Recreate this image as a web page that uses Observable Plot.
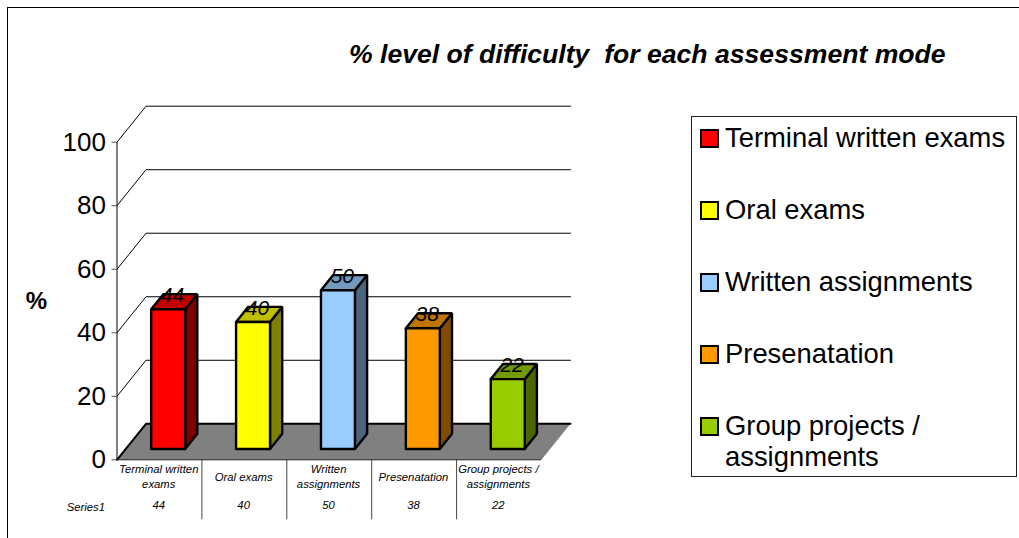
<!DOCTYPE html>
<html>
<head>
<meta charset="utf-8">
<script src="https://cdn.jsdelivr.net/npm/d3@7"></script>
<script src="https://cdn.jsdelivr.net/npm/@observablehq/plot@0.6"></script>
<style>
html,body{margin:0;padding:0;background:#fff;overflow:hidden;width:1019px;height:538px;font-family:"Liberation Sans",Arial,sans-serif}
#wrap{position:relative;width:1019px;height:538px;overflow:hidden}
#frame{position:absolute;left:7px;top:7px;width:1100px;height:600px;border-left:1px solid #000;border-top:1px solid #000}
#chart{position:absolute;left:0;top:0}
#title{position:absolute;left:349px;top:39px;font-weight:bold;font-style:italic;font-size:26.6px;line-height:30px;white-space:pre;color:#000}
#legend{position:absolute;left:691px;top:116px;width:324px;height:359px;border:1px solid #222;background:#fff}
.item{position:absolute;left:8px}
.sw{position:absolute;left:0;top:0;width:15px;height:15px;border:2px solid #000}
.lb{position:absolute;left:25px;top:-7px;font-size:27.4px;line-height:31px;white-space:pre;color:#000}
</style>
</head>
<body>
<div id="wrap">
<div id="frame"></div>
<div id="chart"></div>
<div id="title"></div>
<div id="legend"></div>
</div>
<script>
const chartTitle = "% level of difficulty  for each assessment mode";
const categories = ["Terminal written exams", "Oral exams", "Written assignments", "Presenatation", "Group projects / assignments"];
const axisCategories = ["Terminal written\nexams", "Oral exams", "Written\nassignments", "Presenatation", "Group projects /\nassignments"];
const values = [44, 40, 50, 38, 22];
const frontColors = ["#FF0000", "#FFFF00", "#99CCFF", "#FF9900", "#99CC00"];
const topColors = ["#C00000", "#C0C000", "#7399BF", "#BF7300", "#739900"];
const sideColors = ["#800000", "#808000", "#4D6680", "#804D00", "#4D6600"];
const yTicks = [0, 20, 40, 60, 80, 100];
const seriesName = "Series1";

// Oblique projection: depth d (0..1) shifts a point along both data axes.
const depthX = 0.3416, depthY = 11.34;
const xMax = categories.length;
const yMax = 100;
const project = (c, v, d) => ({x: c + d * depthX, y: v + d * depthY});
const poly = (id, fill, pts) => [...pts, pts[0]].map(p => ({id, fill, ...p}));

const barHalf = 0.2, dFront = 0.3, dBack = 0.72;
const faces = [];
values.forEach((v, i) => {
  const a = i + 0.5 - barHalf, b = i + 0.5 + barHalf;
  faces.push(...poly(`s${i}`, sideColors[i], [project(b, 0, dFront), project(b, 0, dBack), project(b, v, dBack), project(b, v, dFront)]));
  faces.push(...poly(`t${i}`, topColors[i], [project(a, v, dFront), project(b, v, dFront), project(b, v, dBack), project(a, v, dBack)]));
  faces.push(...poly(`f${i}`, frontColors[i], [project(a, 0, dFront), project(b, 0, dFront), project(b, v, dFront), project(a, v, dFront)]));
});
const floor = poly("floor", "#808080", [project(0, 0, 0), project(xMax, 0, 0), project(xMax, 0, 1), project(0, 0, 1)]);
const floorBack = [project(0, 0, 0), project(0, 0, 1), project(xMax, 0, 1)];
const gridLines = yTicks.slice(1).flatMap(t => [project(0, t, 0), project(0, t, 1), project(xMax, t, 1)].map(p => ({t, ...p})));
const dividers = d3.range(1, xMax);
const tableBottom = -18.9;

const rows = categories.map((c, i) => ({c: axisCategories[i], v: values[i], i}));

const plot = Plot.plot({
  width: 1019,
  height: 538,
  marginLeft: 116.5,
  marginRight: 449,
  marginTop: 105.7,
  marginBottom: 78.7,
  style: {fontFamily: '"Liberation Sans", Arial, sans-serif', background: "transparent", color: "#000"},
  x: {domain: [0, xMax + depthX], axis: null},
  y: {domain: [0, yMax + depthY], axis: null},
  color: {type: "identity"},
  marks: [
    Plot.line(gridLines, {x: "x", y: "y", z: "t", stroke: "#000", strokeWidth: 1, strokeLinejoin: "miter"}),
    Plot.line(floor, {x: "x", y: "y", z: "id", fill: "fill", stroke: "none"}),
    Plot.line(floorBack, {x: "x", y: "y", stroke: "#000", strokeWidth: 2, strokeLinejoin: "miter"}),
    Plot.ruleY([0], {x1: 0, x2: xMax, stroke: "#222", strokeWidth: 1}),
    Plot.ruleX([0], {y1: 0, y2: yMax, stroke: "#000", strokeWidth: 1}),
    Plot.axisY({anchor: "left", ticks: yTicks, tickSize: 5, tickPadding: 6, fontSize: 26, stroke: "#555", label: null, tickFormat: d => d, color: "#000"}),
    Plot.line(faces, {x: "x", y: "y", z: "id", fill: "fill", stroke: "#000", strokeWidth: 2.4, strokeLinejoin: "miter"}),
    Plot.text(rows, {x: d => project(d.i + 0.5, d.v, 0.45).x, y: d => project(d.i + 0.5, d.v, dBack).y, dy: 1, text: "v", fontSize: 21, fontStyle: "italic", fill: "#000"}),
    Plot.ruleX(dividers, {y1: 0, y2: tableBottom, stroke: "#444", strokeWidth: 1}),
    Plot.text(rows, {x: d => d.i + 0.5, dx: -0.7, y: 0, dy: 16, text: "c", fontSize: 11.3, lineHeight: 1.33, fontStyle: "italic", fill: "#000"}),
    Plot.text(rows, {x: d => d.i + 0.5, dx: -0.7, y: 0, dy: 45.5, text: "v", fontSize: 11.3, fontStyle: "italic", fill: "#000"}),
    Plot.text([seriesName], {x: 0, y: 0, dx: -12, dy: 48, text: d => d, textAnchor: "end", fontSize: 11.3, fontStyle: "italic", fill: "#000"}),
    Plot.text(["%"], {x: 0, y: 49.8, dx: -80.5, text: d => d, fontSize: 24, fontWeight: "bold", fill: "#000"})
  ]
});
document.getElementById("chart").appendChild(plot);
document.getElementById("title").textContent = chartTitle;

const legendLabels = ["Terminal written exams", "Oral exams", "Written assignments", "Presenatation", "Group projects /\nassignments"];
const legend = document.getElementById("legend");
legendLabels.forEach((label, i) => {
  const item = document.createElement("div");
  item.className = "item";
  item.style.top = (11.5 + i * 72) + "px";
  const sw = document.createElement("div");
  sw.className = "sw";
  sw.style.background = frontColors[i];
  const lb = document.createElement("div");
  lb.className = "lb";
  lb.textContent = label;
  item.append(sw, lb);
  legend.appendChild(item);
});
</script>
</body>
</html>
